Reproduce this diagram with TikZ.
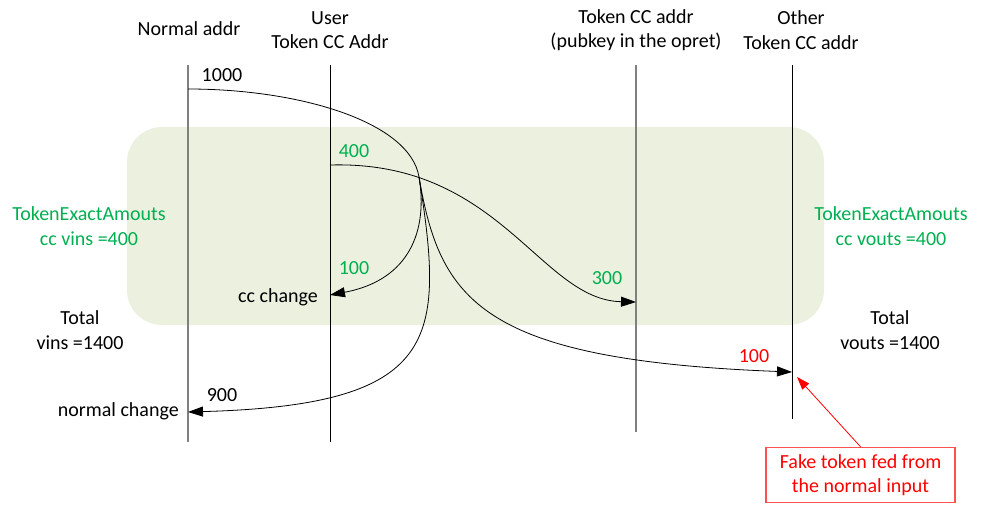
\documentclass[tikz,border=0pt]{standalone}
\usepackage{fontspec}
\setmainfont{Carlito}
\usetikzlibrary{arrows.meta}
\definecolor{bggreen}{HTML}{EBF1DE}
\definecolor{txtgreen}{HTML}{00B050}
\definecolor{lanegrey}{HTML}{808080}
\definecolor{boxred}{HTML}{FF5050}
\tikzset{
  lbl/.style={inner sep=0pt, align=center, font=\fontsize{20}{24.5}\selectfont},
  glbl/.style={lbl, text=txtgreen},
  rlbl/.style={lbl, text=red},
  greylane/.style={draw=lanegrey, line width=2pt},
  blacklane/.style={draw=black, line width=1pt},
  flow/.style={draw=black, line width=0.8pt},
  flowarrow/.style={flow, -{Triangle[length=15pt,width=10pt]}},
  notebox/.style={draw=boxred, line width=1.5pt, minimum width=189pt, minimum height=55pt, inner sep=0pt, align=center, text=red, font=\fontsize{20}{24.5}\selectfont},
}
\begin{document}
\begin{tikzpicture}[x=1pt,y=-1pt]
\useasboundingbox (0,0) rectangle (984,509);
% background band
\fill[bggreen, rounded corners=35pt] (127,127) rectangle (824,325);
% lanes
\coordinate (n1) at (188,65);  \coordinate (n2) at (188,442);
\coordinate (u1) at (330,65);  \coordinate (u2) at (330,442);
\coordinate (t1) at (636,65);  \coordinate (t2) at (636,432);
\coordinate (o1) at (792,65);  \coordinate (o2) at (792,419);
\draw[greylane] (n1) -- (n2);
\draw[blacklane] (u1) -- (u2);
\draw[greylane] (t1) -- (t2);
\draw[blacklane] (o1) -- (o2);
% headers
\node[lbl] (hn) at (189,29) {Normal addr};
\node[lbl] (hu) at (330,30) {User\\Token CC Addr};
\node[lbl] (ht) at (636,30) {Token CC addr\\(pubkey in the opret)};
\node[lbl] (ho) at (801,30) {Other\\Token CC addr};
% flow points
\coordinate (s1000) at (188,89);
\coordinate (s400) at (330,165);
\coordinate (j) at (419,177);
\coordinate (ccch) at (330,295);
\coordinate (e300) at (636,302);
\coordinate (e900) at (188,412);
\coordinate (e100) at (792,372);
% flows
\draw[flow] (s1000) .. controls (300,89) and (410,122) .. (j);
\draw[flowarrow] (s400) .. controls (500,160) and (540,300) .. (e300);
\draw[flowarrow] (j) .. controls (428,230) and (410,280) .. (ccch);
\draw[flowarrow] (j) .. controls (445,340) and (440,405) .. (e900);
\draw[flowarrow] (j) .. controls (440,300) and (480,360) .. (e100);
% amounts
\node[lbl] (a1000) at (222,75) {1000};
\node[glbl] (a400) at (354,151) {400};
\node[glbl] (a100g) at (354,268) {100};
\node[lbl, anchor=east] (lcc) at (318,297) {cc change};
\node[glbl] (a300) at (607,278) {300};
\node[lbl] (a900) at (222,395) {900};
\node[lbl, anchor=east] (lnc) at (179,411) {normal change};
\node[rlbl] (a100r) at (754,356) {100};
% side notes
\node[lbl] (tvin) at (80,330) {Total\\vins =1400};
\node[lbl] (tvout) at (890,330) {Total\\vouts =1400};
\node[glbl] (gvin) at (89,226) {TokenExactAmouts\\cc vins =400};
\node[glbl] (gvout) at (891,226) {TokenExactAmouts\\cc vouts =400};
% red note
\node[notebox] (fake) at (860.5,475) {Fake token fed from\\the normal input};
\coordinate (ftip) at (797,377);
\draw[red, line width=0.8pt, -{Triangle[length=13pt,width=9pt]}] (fake.north) -- (ftip);
\end{tikzpicture}
\end{document}
